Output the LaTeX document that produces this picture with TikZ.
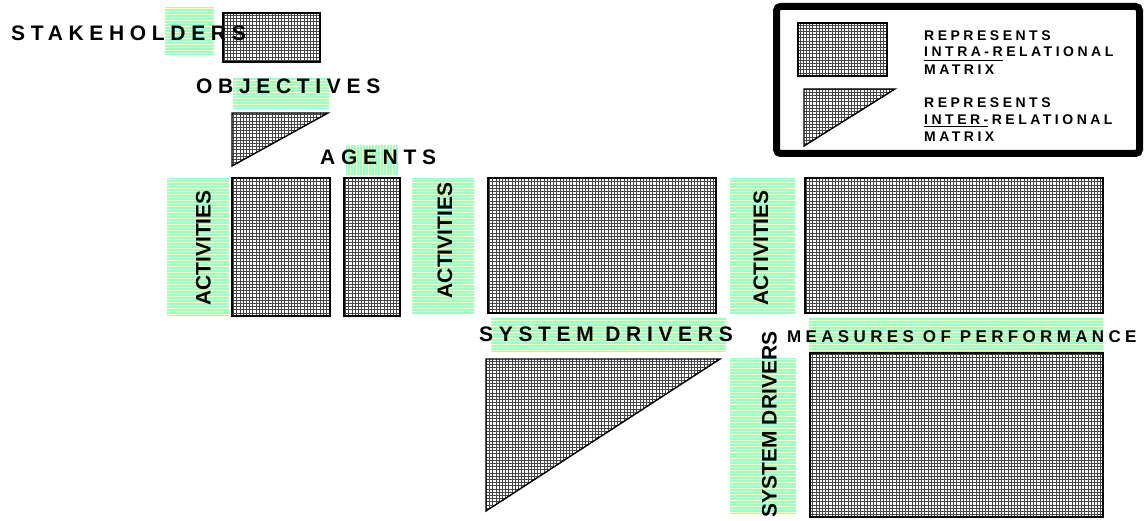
\documentclass[tikz,border=0pt]{standalone}
\usepackage{fontspec}
\setmainfont{Liberation Sans}
\newfontfamily\spacedA{Liberation Sans}[LetterSpace=27, UprightFont={* Bold}]
\newfontfamily\spacedB{Liberation Sans}[LetterSpace=25.5, UprightFont={* Bold}]
\newfontfamily\spacedC{Liberation Sans}[LetterSpace=25, UprightFont={* Bold}]
\newfontfamily\plainbold{Liberation Sans}[UprightFont={* Bold}]
\usetikzlibrary{patterns}
\definecolor{gridgray}{RGB}{70,70,70}
\definecolor{stripegreen}{RGB}{150,255,208}
\definecolor{stripeyellow}{RGB}{255,255,180}
\pgfdeclarepatternformonly{mgrid}{\pgfqpoint{-1pt}{-1pt}}{\pgfqpoint{4.2pt}{4.2pt}}{\pgfqpoint{3.2pt}{3.2pt}}{%
  \pgfsetlinewidth{0.7pt}%
  \pgfpathmoveto{\pgfqpoint{-0.5pt}{0pt}}\pgfpathlineto{\pgfqpoint{3.7pt}{0pt}}%
  \pgfpathmoveto{\pgfqpoint{0pt}{-0.5pt}}\pgfpathlineto{\pgfqpoint{0pt}{3.7pt}}%
  \pgfusepath{stroke}}
\pgfdeclarepatternformonly{hstripes}{\pgfqpoint{-1pt}{-1pt}}{\pgfqpoint{4pt}{4pt}}{\pgfqpoint{3pt}{3pt}}{%
  \pgfpathrectangle{\pgfqpoint{-0.5pt}{0pt}}{\pgfqpoint{4pt}{2.2pt}}\pgfusepath{fill}}
\pgfdeclarepatternformonly{vstripes}{\pgfqpoint{-1pt}{-1pt}}{\pgfqpoint{4pt}{4pt}}{\pgfqpoint{3pt}{3pt}}{%
  \pgfpathrectangle{\pgfqpoint{0pt}{-0.5pt}}{\pgfqpoint{2.2pt}{4pt}}\pgfusepath{fill}}
\tikzset{
  matrixbox/.style={draw=black, line width=1.4pt, preaction={fill=white}, pattern=mgrid, pattern color=gridgray},
  hband/.style={preaction={fill=stripeyellow}, pattern=hstripes, pattern color=stripegreen},
  vband/.style={preaction={fill=stripeyellow}, pattern=vstripes, pattern color=stripegreen},
  toplabel/.style={font=\spacedA\fontsize{21}{24}\selectfont, inner sep=0pt, anchor=base west},
  moplabel/.style={font=\spacedB\fontsize{17}{20}\selectfont, inner sep=0pt, anchor=base west},
  vlabel/.style={font=\plainbold\fontsize{21}{24}\selectfont, rotate=90, inner sep=0pt},
  legtext/.style={font=\spacedC\fontsize{14}{16}\selectfont, inner sep=0pt, anchor=base west},
  legframe/.style={draw=black, line width=7pt, rounded corners=4pt},
}
\begin{document}
\begin{tikzpicture}[x=1pt,y=-1pt]
\useasboundingbox (0,0) rectangle (1145,521);
% green bands
\path[hband] (165,8) rectangle (214,55);
\path[hband] (233,78) rectangle (329,109);
\path[hband] (167,179) rectangle (229,315);
\path[vband] (346,146) rectangle (398,175);
\path[hband] (412,179) rectangle (474,314);
\path[hband] (730,179) rectangle (795,314);
\path[hband] (491,317) rectangle (726,351);
\path[hband] (809,317) rectangle (1103,353);
\path[hband] (730,358) rectangle (796,513);
% matrices
\path[matrixbox] (223,13) rectangle (320,62);
\path[matrixbox] (232,113) -- (328,113) -- (232,166) -- cycle;
\path[matrixbox] (232,178) rectangle (330,316);
\path[matrixbox] (344,178) rectangle (400,316);
\path[matrixbox] (488,178) rectangle (716,313);
\path[matrixbox] (805,178) rectangle (1103,313);
\path[matrixbox] (486,359) -- (720,359) -- (486,511) -- cycle;
\path[matrixbox] (810,353) rectangle (1103,517);
% labels
\node[toplabel] (stk) at (11,41) {STAKEHOLDERS};
\node[toplabel] (obj) at (196,94) {OBJECTIVES};
\node[toplabel] (agt) at (320,165) {AGENTS};
\node[toplabel] (sdh) at (479,341) {SYSTEM DRIVERS};
\node[moplabel] (mop) at (787,342) {MEASURES OF PERFORMANCE};
\node[vlabel] (act1) at (203.5,248) {ACTIVITIES};
\node[vlabel] (act2) at (445,240.5) {ACTIVITIES};
\node[vlabel] (act3) at (761,248) {ACTIVITIES};
\node[vlabel] (sdv) at (769.5,424.5) {SYSTEM DRIVERS};
% legend
\draw[legframe] (776.5,6.5) rectangle (1139.5,153.5);
\path[matrixbox] (798,23) rectangle (887,76);
\path[matrixbox] (804,89) -- (895,89) -- (804,146) -- cycle;
\node[legtext] (l1) at (924,41) {REPRESENTS};
\node[legtext] (l2) at (924,57) {INTRA-RELATIONAL};
\node[legtext] (l3) at (924,75) {MATRIX};
\node[legtext] (l4) at (924,108) {REPRESENTS};
\node[legtext] (l5) at (924,125) {INTER-RELATIONAL};
\node[legtext] (l6) at (924,142) {MATRIX};
\draw[line width=1pt] ([yshift=-4pt]l2.base west) -- ++(79,0);
\draw[line width=1pt] ([yshift=-2pt]l5.base west) -- ++(64,0);
\end{tikzpicture}
\end{document}
